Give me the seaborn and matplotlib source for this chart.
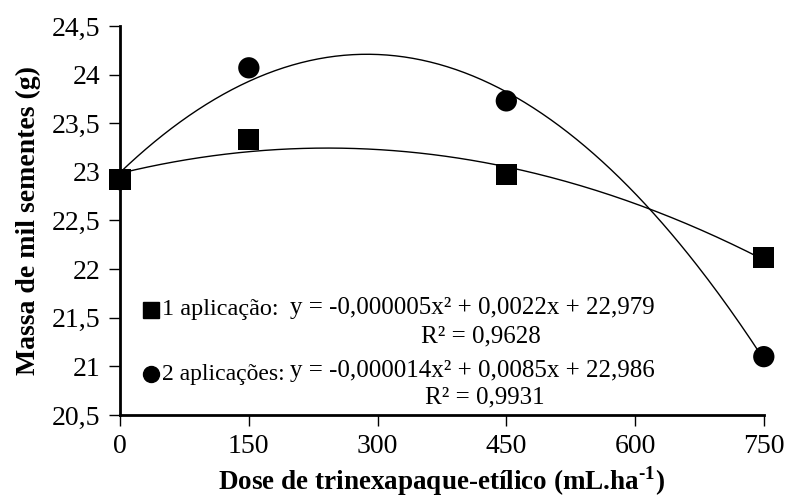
import numpy as np
import pandas as pd
import matplotlib
matplotlib.use("Agg")
import matplotlib.pyplot as plt
import seaborn as sns

# Dose (mL/ha) and thousand-seed mass (g)
doses = [0, 150, 450, 750]
massa_1_aplicacao = [22.92, 23.33, 22.97, 22.12]
massa_2_aplicacoes = [22.92, 24.07, 23.73, 21.10]

eq_1 = "y = -0,000005x² + 0,0022x + 22,979"
r2_1 = "R² = 0,9628"
eq_2 = "y = -0,000014x² + 0,0085x + 22,986"
r2_2 = "R² = 0,9931"

x_ticks = [0, 150, 300, 450, 600, 750]
y_ticks = [20.5, 21, 21.5, 22, 22.5, 23, 23.5, 24, 24.5]

sns.set_theme(style="white")
plt.rcParams["font.family"] = ["Liberation Serif", "DejaVu Serif"]
plt.rcParams["mathtext.fontset"] = "custom"
plt.rcParams["mathtext.rm"] = "Liberation Serif:bold"
plt.rcParams["mathtext.bf"] = "Liberation Serif:bold"
for key in ["text.color", "axes.labelcolor", "xtick.color", "ytick.color"]:
    plt.rcParams[key] = "black"

fig = plt.figure(figsize=(7.85, 5.0), dpi=100)
ax = fig.add_axes([0.153, 0.17, 0.82, 0.778])

# Quadratic regression curves fitted to each treatment
xx = np.linspace(0, 750, 300)
curves = []
for name, vals in [("1", massa_1_aplicacao), ("2", massa_2_aplicacoes)]:
    coef = np.polyfit(doses, vals, 2)
    curves.append(pd.DataFrame({"dose": xx, "massa": np.polyval(coef, xx), "trat": name}))
curve_df = pd.concat(curves, ignore_index=True)
sns.lineplot(data=curve_df, x="dose", y="massa", units="trat", estimator=None,
             color="black", linewidth=1.0, ax=ax, legend=False)

pts = pd.DataFrame({
    "dose": doses * 2,
    "massa": massa_2_aplicacoes + massa_1_aplicacao,
    "trat": ["2 aplicações"] * 4 + ["1 aplicação"] * 4,
})
sns.scatterplot(data=pts, x="dose", y="massa", style="trat",
                markers={"1 aplicação": "s", "2 aplicações": "o"},
                color="black", s=235, edgecolor="none", ax=ax, legend=False,
                zorder=3, clip_on=False)

ax.set_xlim(0, 750)
ax.set_ylim(20.5, 24.5)
ax.set_xticks(x_ticks)
ax.set_yticks(y_ticks)
ax.set_xticklabels([str(t) for t in x_ticks])
ax.set_yticklabels([f"{t:g}".replace(".", ",") for t in y_ticks])
ax.tick_params(axis="both", labelsize=20, length=8, width=1.0, colors="black",
               direction="out", bottom=True, left=True)
ax.tick_params(axis="x", pad=6)
ax.tick_params(axis="y", pad=6)
for side in ["top", "right"]:
    ax.spines[side].set_visible(False)
for side in ["left", "bottom"]:
    ax.spines[side].set_color("black")
    ax.spines[side].set_linewidth(2.0)

ax.set_xlabel(r"Dose de trinexapaque-etílico (mL.ha$^{\text{-}1}$)",
              fontsize=19.5, fontweight="bold", labelpad=3)
ax.set_ylabel("Massa de mil sementes (g)", fontsize=20, fontweight="bold", labelpad=8)

# Equation block
ax.plot([35.5], [21.58], marker="s", color="black", ms=11.5, clip_on=False)
ax.text(49, 21.58, "1 aplicação:", fontsize=17.5, va="center", ha="left")
ax.text(198, 21.60, eq_1, fontsize=18, va="center", ha="left")
ax.text(420, 21.31, r2_1, fontsize=18, va="center", ha="center")
ax.plot([35.5], [20.92], marker="o", color="black", ms=11.5, clip_on=False)
ax.text(49, 20.92, "2 aplicações:", fontsize=17, va="center", ha="left")
ax.text(198, 20.95, eq_2, fontsize=18, va="center", ha="left")
ax.text(425, 20.68, r2_2, fontsize=18, va="center", ha="center")

fig.savefig("out.png", dpi=100)
